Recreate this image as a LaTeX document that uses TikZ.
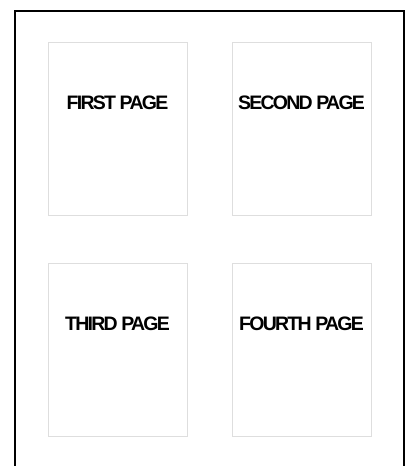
\documentclass[tikz,border=0pt]{standalone}
\usepackage{fontspec}
\setmainfont{Liberation Sans}
\newfontfamily\pagefont[LetterSpace=-9]{Liberation Sans}
\usetikzlibrary{positioning}

\begin{document}
\begin{tikzpicture}[
  x=1pt, y=1pt,
  node distance=44pt and 47pt,
  page/.style={rectangle, draw=black!13, line width=1pt, fill=white, minimum width=139pt, minimum height=173pt, inner sep=0pt},
  title/.style={inner sep=0pt, font=\pagefont\fontsize{19.5}{21}\selectfont\bfseries, text height=14pt, text depth=0pt},
]
  \useasboundingbox (0,0) rectangle (409,-466);
  \coordinate (sheetbl) at (14.5,-470);
  \coordinate (sheetbr) at (403.5,-470);
  \draw[line width=2pt] (sheetbl) |- (209,-10.5) -| (sheetbr);

  \node[page] (first) at (117.5,-128.5) {};
  \node[page, right=44pt of first] (second) {};
  \node[page, below=47pt of first] (third) {};
  \node[page, right=44pt of third] (fourth) {};

  \node[title, below=54pt of first.north] (firstlbl) {FIRST PAGE};
  \node[title, below=54pt of second.north] (secondlbl) {SECOND PAGE};
  \node[title, below=54pt of third.north] (thirdlbl) {THIRD PAGE};
  \node[title, below=54pt of fourth.north] (fourthlbl) {FOURTH PAGE};
\end{tikzpicture}
\end{document}
